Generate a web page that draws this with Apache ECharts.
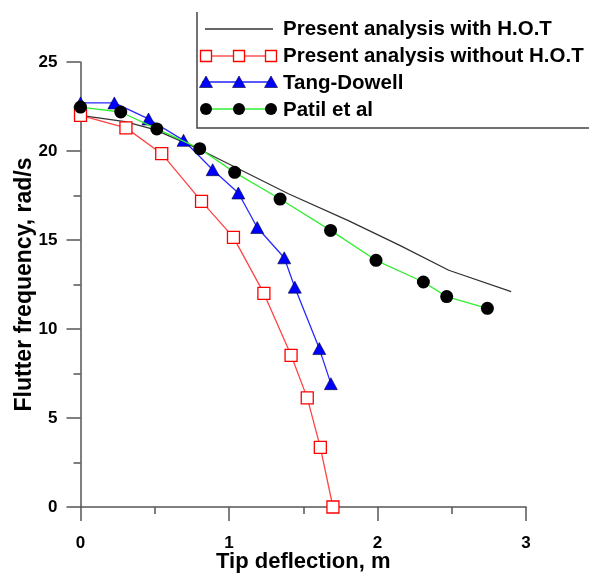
<!DOCTYPE html>
<html><head><meta charset="utf-8">
<script src="https://cdn.jsdelivr.net/npm/echarts@6/dist/echarts.min.js"></script>
<style>html,body{margin:0;padding:0;background:#fff}#c{width:589px;height:573px}</style>
</head><body><div id="c"></div>
<script>
const seriesNames = ['Present analysis with H.O.T','Present analysis without H.O.T','Tang-Dowell','Patil et al'];
const hotX = [0, 0.3, 0.5, 0.8, 1.1, 1.4, 1.8, 2.15, 2.48, 2.9];
const hotY = [22.0, 21.65, 21.2, 20.1, 18.85, 17.6, 16.1, 14.7, 13.3, 12.1];
const noHotX = [0, 0.306, 0.547, 0.815, 1.03, 1.235, 1.418, 1.527, 1.615, 1.70];
const noHotY = [22.0, 21.3, 19.85, 17.17, 15.15, 12.0, 8.52, 6.13, 3.35, 0];
const tangX = [0, 0.228, 0.458, 0.694, 0.89, 1.063, 1.19, 1.372, 1.443, 1.608, 1.686];
const tangY = [22.7, 22.7, 21.8, 20.6, 18.95, 17.64, 15.7, 14.0, 12.35, 8.9, 6.93];
const patilX = [0, 0.271, 0.514, 0.803, 1.038, 1.344, 1.684, 1.99, 2.309, 2.466, 2.74];
const patilY = [22.47, 22.19, 21.24, 20.13, 18.8, 17.3, 15.54, 13.86, 12.64, 11.82, 11.16];
const xTicks = [0, 1, 2, 3];
const yTicks = [0, 5, 10, 15, 20, 25];

const pair = (xs, ys) => xs.map((x, i) => [x, ys[i]]);
const font = 'Liberation Sans, Arial, sans-serif';
const axisCol = '#555';

const chart = echarts.init(document.getElementById('c'));

// legend icon decorations (pixel layout only)
const legX0 = 202, legX1 = 273, symXs = [206, 239, 271];
const rowY = [29, 56, 82, 109];
const g = [];
g.push({type:'polyline', shape:{points:[[197,12],[197,128],[600,128]]}, style:{stroke:'#444', lineWidth:1.5, fill:null}, z:10});
g.push({type:'line', shape:{x1:205,y1:rowY[0],x2:273,y2:rowY[0]}, style:{stroke:'#333',lineWidth:1.3}, z:10});
g.push({type:'line', shape:{x1:legX0,y1:rowY[1],x2:legX1,y2:rowY[1]}, style:{stroke:'#ff5555',lineWidth:1.3}, z:10});
g.push({type:'line', shape:{x1:legX0,y1:rowY[2],x2:legX1,y2:rowY[2]}, style:{stroke:'#2222ff',lineWidth:1.3}, z:10});
g.push({type:'line', shape:{x1:legX0,y1:rowY[3],x2:legX1,y2:rowY[3]}, style:{stroke:'#33ee33',lineWidth:1.3}, z:10});
symXs.forEach(sx => {
  g.push({type:'rect', shape:{x:sx-5.5,y:rowY[1]-5.5,width:11,height:11}, style:{fill:'#fff',stroke:'#ff0000',lineWidth:1.3}, z:11});
  g.push({type:'polygon', shape:{points:[[sx,rowY[2]-6],[sx+6.5,rowY[2]+5.5],[sx-6.5,rowY[2]+5.5]]}, style:{fill:'#0000ff',stroke:'#000033',lineWidth:0.6}, z:11});
  g.push({type:'circle', shape:{cx:sx,cy:rowY[3],r:6}, style:{fill:'#000'}, z:11});
});

chart.setOption({
  animation: false,
  backgroundColor: '#fff',
  grid: {left: 80.5, right: 63, top: 62, bottom: 66, containLabel: false, outerBoundsMode: 'none'},
  legend: {
    orient: 'vertical', left: 200, top: 18.5, padding: 0,
    itemWidth: 77, itemHeight: 20.5, itemGap: 6.2,
    itemStyle: {opacity: 0}, lineStyle: {opacity: 0},
    textStyle: {fontFamily: font, fontWeight: 'bold', fontSize: 20.5, color: '#000'},
    data: seriesNames, selectedMode: false
  },
  xAxis: {
    type: 'value', min: 0, max: 3, interval: 1,
    name: 'Tip deflection, m', nameLocation: 'middle', nameGap: 44, nameMoveOverlap: false,
    nameTextStyle: {fontFamily: font, fontWeight: 'bold', fontSize: 22, color: '#000'},
    axisLine: {onZero: false, lineStyle: {color: axisCol, width: 1.5}},
    axisTick: {length: 14, lineStyle: {color: axisCol, width: 1.5}},
    minorTick: {show: true, splitNumber: 2, length: 7, lineStyle: {color: axisCol, width: 1.5}},
    splitLine: {show: false},
    axisLabel: {margin: 28, fontFamily: font, fontWeight: 'bold', fontSize: 17, color: '#000',
      formatter: v => xTicks.includes(v) ? String(v) : ''}
  },
  yAxis: {
    type: 'value', min: 0, max: 25, interval: 5,
    name: 'Flutter frequency, rad/s', nameLocation: 'middle', nameGap: 44, nameMoveOverlap: false,
    nameTextStyle: {fontFamily: font, fontWeight: 'bold', fontSize: 23, color: '#000'},
    axisLine: {onZero: false, lineStyle: {color: axisCol, width: 1.5}},
    axisTick: {length: 14, lineStyle: {color: axisCol, width: 1.5}},
    minorTick: {show: true, splitNumber: 2, length: 7, lineStyle: {color: axisCol, width: 1.5}},
    splitLine: {show: false},
    axisLabel: {margin: 23, fontFamily: font, fontWeight: 'bold', fontSize: 17, color: '#000',
      formatter: v => yTicks.includes(v) ? String(v) : ''}
  },
  graphic: g,
  series: [
    {name: seriesNames[0], type: 'line', data: pair(hotX, hotY), showSymbol: false, symbol: 'none',
      lineStyle: {color: '#333', width: 1.3}, itemStyle: {color: '#333'}, z: 2},
    {name: seriesNames[1], type: 'line', data: pair(noHotX, noHotY), symbol: 'rect', symbolSize: 12,
      lineStyle: {color: '#ff4444', width: 1.3},
      itemStyle: {color: '#fff', borderColor: '#ff0000', borderWidth: 1.3}, z: 3},
    {name: seriesNames[2], type: 'line', data: pair(tangX, tangY), symbol: 'triangle', symbolSize: [13, 12],
      lineStyle: {color: '#2a2aff', width: 1.3},
      itemStyle: {color: '#0000ff', borderColor: '#000033', borderWidth: 0.6}, z: 4},
    {name: seriesNames[3], type: 'line', data: pair(patilX, patilY), symbol: 'circle', symbolSize: 13,
      lineStyle: {color: '#33ee33', width: 1.3},
      itemStyle: {color: '#000', borderColor: '#000', borderWidth: 0}, z: 5}
  ]
});
</script></body></html>
